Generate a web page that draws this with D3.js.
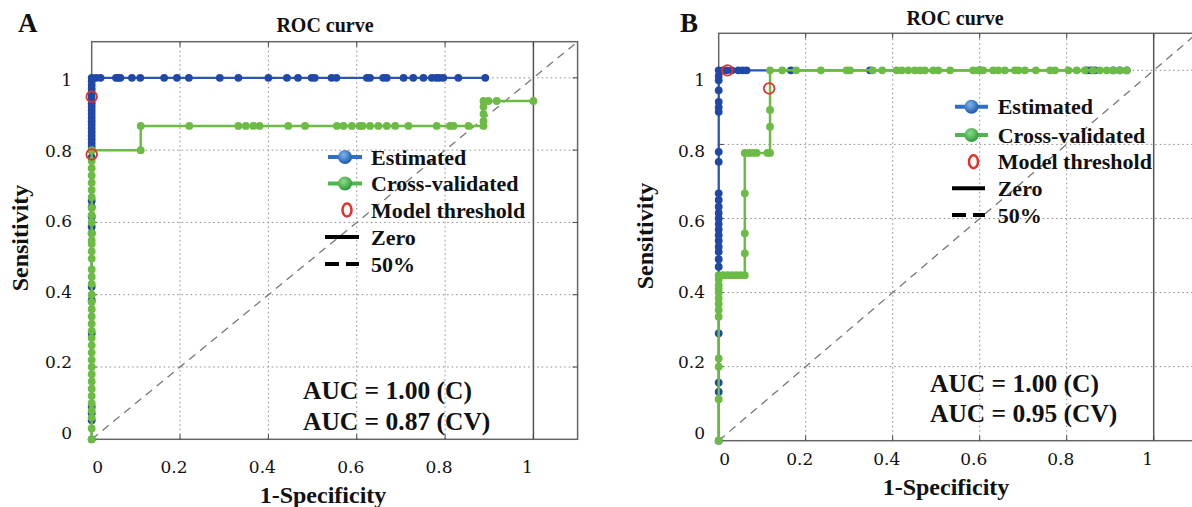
<!DOCTYPE html>
<html><head><meta charset="utf-8">
<script src="https://cdn.jsdelivr.net/npm/d3@7"></script>
<style>
html,body{margin:0;padding:0;background:#fff;}
svg{display:block;}
.bold{font-family:"Liberation Serif","Times New Roman",serif;font-weight:bold;fill:#111;}
.tick{font-family:"DejaVu Serif",serif;font-size:17px;fill:#111;}
</style>
</head><body>
<svg id="chart" width="1192" height="507"></svg>
<script>
// ---------- DATA ----------
const tickValues = [0, 0.2, 0.4, 0.6, 0.8, 1];
const tickLabels = ["0", "0.2", "0.4", "0.6", "0.8", "1"];
const legendLabels = ["Estimated", "Cross-validated", "Model threshold", "Zero", "50%"];
const panelLetters = ["A", "B"];
const titleText = "ROC curve";
const xTitle = "1-Specificity";
const yTitle = "Sensitivity";
const aucA = ["AUC = 1.00 (C)", "AUC = 0.87 (CV)"];
const aucB = ["AUC = 1.00 (C)", "AUC = 0.95 (CV)"];

// Panel A – Estimated (blue)
const estA_fpr = [0,0,0,0,0,0,0,0,0,0,0,0,0,0,0,0,0,0,0,0,0,0,0,0,0,0,0,0,0,0,0,0,0,0,
  0.01,0.02,0.055,0.06,0.065,0.091,0.11,0.164,0.193,0.22,0.29,0.332,0.40,0.442,0.467,0.498,0.505,0.543,0.554,0.623,0.63,0.66,0.668,0.706,0.728,0.751,0.77,0.78,0.787,0.796,0.83,0.891];
const estA_tpr = [0,0.053,0.072,0.09,0.293,0.385,0.422,0.57,0.588,0.616,0.643,0.66,0.78,0.80,0.81,0.82,0.83,0.84,0.85,0.86,0.87,0.88,0.89,0.90,0.91,0.92,0.93,0.94,0.95,0.96,0.97,0.98,0.99,1,
  1,1,1,1,1,1,1,1,1,1,1,1,1,1,1,1,1,1,1,1,1,1,1,1,1,1,1,1,1,1,1,1];
// Panel A – Cross-validated (green)
const cvA_fpr = [0,0,0,0,0,0,0,0,0,0,0,0,0,0,0,0,0,0,0,0,0,0,0,0,0,0,0,0,0,0,0,0,0,0,0,0,0,0,
  0.111,0.111,0.221,0.332,0.349,0.366,0.38,0.445,0.483,0.555,0.57,0.589,0.607,0.613,0.63,0.649,0.668,0.687,0.717,0.781,0.811,0.819,0.853,0.887,
  0.887,0.887,0.887,0.887,0.898,0.917,1.0];
const cvA_tpr = [0,0.03,0.06,0.08,0.10,0.12,0.14,0.16,0.18,0.20,0.22,0.24,0.26,0.28,0.30,0.32,0.34,0.36,0.38,0.40,0.43,0.45,0.47,0.50,0.52,0.54,0.55,0.57,0.60,0.62,0.64,0.67,0.69,0.71,0.73,0.75,0.77,0.80,
  0.80,0.867,0.867,0.867,0.867,0.867,0.867,0.867,0.867,0.867,0.867,0.867,0.867,0.867,0.867,0.867,0.867,0.867,0.867,0.867,0.867,0.867,0.867,0.867,
  0.88,0.90,0.92,0.936,0.936,0.936,0.936];
const thrA_fpr = [0, 0];
const thrA_tpr = [0.948, 0.788];

// Panel B – Estimated (blue)
const estB_fpr = [0,0,0,0,0,0,0,0,0,0,0,0,0,0,0,0,0,0,0,0,0,0,0,0,0,0,
  0.01,0.018,0.03,0.045,0.055,0.064,0.166,0.348,0.601,0.846,0.855,0.865,0.907,0.922,0.938];
const estB_tpr = [0,0.132,0.157,0.29,0.47,0.49,0.51,0.524,0.54,0.555,0.57,0.585,0.60,0.615,0.632,0.65,0.668,0.753,0.78,0.888,0.90,0.915,0.946,0.973,0.985,1,
  1,1,1,1,1,1,1,1,1,1,1,1,1,1,1];
// Panel B – Cross-validated (green)
const cvB_fpr = [0,0,0,0,0,0,0,0,0,0,0,0,0,
  0.01,0.02,0.03,0.04,0.05,0.06,
  0.06,0.06,0.06,0.06,
  0.07,0.078,0.087,0.112,0.118,
  0.118,0.118,0.118,
  0.146,0.178,0.235,0.294,0.302,0.354,0.376,0.409,0.421,0.436,0.451,0.463,0.474,0.493,0.505,0.532,0.585,0.597,0.608,0.631,0.643,0.658,0.681,0.689,0.704,0.729,0.762,0.773,0.804,0.823,0.842,0.86,0.876,0.892,0.907,0.922,0.938];
const cvB_tpr = [0,0.112,0.20,0.222,0.335,0.353,0.37,0.385,0.40,0.41,0.42,0.435,0.447,
  0.447,0.447,0.447,0.447,0.447,0.447,
  0.506,0.56,0.668,0.777,
  0.777,0.777,0.777,0.777,0.777,
  0.848,0.893,1,
  1,1,1,1,1,1,1,1,1,1,1,1,1,1,1,1,1,1,1,1,1,1,1,1,1,1,1,1,1,1,1,1,1,1,1,1,1];
const thrB_fpr = [0.02, 0.116];
const thrB_tpr = [1.0, 0.951];

// ---------- DRAWING ----------
const svg = d3.select("#chart");
const defs = svg.append("defs");
function grad(id, c0, c1) {
  const g = defs.append("radialGradient").attr("id", id).attr("cx","40%").attr("cy","35%").attr("r","65%");
  g.append("stop").attr("offset","0%").attr("stop-color", c0);
  g.append("stop").attr("offset","100%").attr("stop-color", c1);
}
grad("gBlue", "#7fb4ee", "#1f5aa8");
grad("gGreen", "#8fdc8a", "#2f9a3a");

const BLUE = "#2048a6", BLUE_LINE = "#2a55b2", GREEN = "#6cbb45", RED = "#e8302a";

const zip = (a, b) => a.map((v, i) => [v, b[i]]);

function panel(cfg) {
  const g = svg.append("g");
  const x = d3.scaleLinear().domain([0, 1.1]).range([cfg.left, cfg.right]);
  const y = d3.scaleLinear().domain([0, 1.1]).range([cfg.bottom, cfg.top]);
  const yl = d3.scaleLinear().domain([0, 1]).range([433, 80]);

  // grid
  const gv = [0.2, 0.4, 0.6, 0.8];
  g.selectAll(".gx").data(gv).enter().append("line")
    .attr("x1", d => x(d)).attr("x2", d => x(d)).attr("y1", y(0)).attr("y2", y(1.1))
    .attr("stroke", "#8a8a8a").attr("stroke-width", 1).attr("stroke-dasharray", "1.5,3");
  g.selectAll(".gy").data([0.2, 0.4, 0.6, 0.8, 1]).enter().append("line")
    .attr("x1", x(0)).attr("x2", x(1.1)).attr("y1", d => y(d)).attr("y2", d => y(d))
    .attr("stroke", "#8a8a8a").attr("stroke-width", 1).attr("stroke-dasharray", "1.5,3");

  // 50% diagonal
  g.append("line").attr("x1", x(0)).attr("y1", y(0)).attr("x2", x(1.1)).attr("y2", y(1.1))
    .attr("stroke", "#777").attr("stroke-width", 1.3).attr("stroke-dasharray", "8,6");
  // zero line (x = 1)
  g.append("line").attr("x1", x(1)).attr("x2", x(1)).attr("y1", y(0)).attr("y2", y(1.1))
    .attr("stroke", "#555").attr("stroke-width", 1.5);

  // frame
  g.append("rect").attr("x", x(0)).attr("y", y(1.1)).attr("width", x(1.1) - x(0)).attr("height", y(0) - y(1.1))
    .attr("fill", "none").attr("stroke", "#666").attr("stroke-width", 1.5);
  // inner ticks
  const tk = [0.2, 0.4, 0.6, 0.8, 1];
  tk.forEach(v => {
    g.append("line").attr("x1", x(v)).attr("x2", x(v)).attr("y1", y(1.1)).attr("y2", y(1.1) + 5).attr("stroke", "#444");
    g.append("line").attr("x1", x(v)).attr("x2", x(v)).attr("y1", y(0)).attr("y2", y(0) - 5).attr("stroke", "#444");
    g.append("line").attr("x1", x(0)).attr("x2", x(0) + 5).attr("y1", y(v)).attr("y2", y(v)).attr("stroke", "#444");
    g.append("line").attr("x1", x(1.1)).attr("x2", x(1.1) - 5).attr("y1", y(v)).attr("y2", y(v)).attr("stroke", "#444");
  });

  const line = d3.line().x(d => x(d[0])).y(d => y(d[1]));
  // estimated
  const est = zip(cfg.estX, cfg.estY);
  g.append("path").datum(est).attr("d", line).attr("fill", "none").attr("stroke", BLUE_LINE).attr("stroke-width", 2.2);
  g.selectAll(".pe").data(est).enter().append("circle")
    .attr("cx", d => x(d[0])).attr("cy", d => y(d[1])).attr("r", 3.9).attr("fill", BLUE);
  // cross validated
  const cv = zip(cfg.cvX, cfg.cvY);
  g.append("path").datum(cv).attr("d", line).attr("fill", "none").attr("stroke", GREEN).attr("stroke-width", 2.5);
  g.selectAll(".pc").data(cv).enter().append("circle")
    .attr("cx", d => x(d[0])).attr("cy", d => y(d[1])).attr("r", 3.9).attr("fill", GREEN);
  // thresholds
  g.selectAll(".pt").data(zip(cfg.thrX, cfg.thrY)).enter().append("ellipse")
    .attr("cx", d => x(d[0])).attr("cy", d => y(d[1])).attr("rx", 5.3).attr("ry", 5.3)
    .attr("fill", "none").attr("stroke", RED).attr("stroke-width", 1.8);

  // tick labels
  g.selectAll(".ty").data(tickValues).enter().append("text").attr("class", "tick")
    .attr("x", cfg.yLabelX).attr("y", d => yl(d)).attr("text-anchor", "end").attr("dominant-baseline", "central")
    .text((d, i) => tickLabels[i]);
  g.selectAll(".tx").data(tickValues).enter().append("text").attr("class", "tick")
    .attr("x", d => d === 0 ? x(d) + 6 : x(d) - 6).attr("y", cfg.xLabelY).attr("text-anchor", "middle").attr("dominant-baseline", "central")
    .text((d, i) => tickLabels[i]);

  // titles
  g.append("text").attr("class", "bold").attr("x", cfg.titleX).attr("y", cfg.titleY).attr("text-anchor", "middle")
    .attr("font-size", 20).text(titleText);
  g.append("text").attr("class", "bold").attr("x", cfg.letterX).attr("y", 32).attr("font-size", 27).text(cfg.letter);
  g.append("text").attr("class", "bold").attr("x", cfg.xTitleX).attr("y", cfg.xTitleY).attr("text-anchor", "middle")
    .attr("dominant-baseline", "central").attr("font-size", 24).text(xTitle);
  g.append("text").attr("class", "bold").attr("transform", `translate(${cfg.yTitleX},${cfg.yTitleY}) rotate(-90)`)
    .attr("text-anchor", "middle").attr("dominant-baseline", "central").attr("font-size", 24).text(yTitle);

  // AUC
  cfg.auc.forEach((t, i) => {
    g.append("text").attr("class", "bold").attr("x", cfg.aucX).attr("y", cfg.aucY[i])
      .attr("dominant-baseline", "central").attr("font-size", 25.5).text(t);
  });

  // legend
  const L = cfg.leg;
  legendLabels.forEach((t, i) => {
    const yy = L.y[i];
    g.append("text").attr("class", "bold").attr("x", L.tx).attr("y", yy).attr("dominant-baseline", "central")
      .attr("font-size", 22).text(t);
    const x0 = L.x0, x1 = L.x1, xm = (x0 + x1) / 2;
    if (i === 0 || i === 1) {
      g.append("line").attr("x1", x0).attr("x2", x1).attr("y1", yy).attr("y2", yy)
        .attr("stroke", i === 0 ? "#2f6fc4" : "#4cb84c").attr("stroke-width", 4);
      g.append("circle").attr("cx", xm).attr("cy", yy).attr("r", 7)
        .attr("fill", i === 0 ? "url(#gBlue)" : "url(#gGreen)");
    } else if (i === 2) {
      g.append("ellipse").attr("cx", xm + 2).attr("cy", yy).attr("rx", 4.5).attr("ry", 6.5)
        .attr("fill", "none").attr("stroke", RED).attr("stroke-width", 2.5);
    } else if (i === 3) {
      g.append("line").attr("x1", x0 - 3).attr("x2", x1 - 3).attr("y1", yy).attr("y2", yy)
        .attr("stroke", "#000").attr("stroke-width", 4);
    } else {
      g.append("line").attr("x1", x0 - 3).attr("x2", x1 - 3).attr("y1", yy).attr("y2", yy)
        .attr("stroke", "#000").attr("stroke-width", 4).attr("stroke-dasharray", "14,7");
    }
  });
}

panel({
  left: 91.7, right: 577.6, top: 41.7, bottom: 439.3,
  estX: estA_fpr, estY: estA_tpr, cvX: cvA_fpr, cvY: cvA_tpr, thrX: thrA_fpr, thrY: thrA_tpr,
  yLabelX: 72, xLabelY: 467, titleX: 325, titleY: 31.5, letter: panelLetters[0], letterX: 18,
  xTitleX: 323, xTitleY: 495, yTitleX: 20, yTitleY: 238,
  auc: aucA, aucX: 303, aucY: [390, 421.7],
  leg: { x0: 328, x1: 362, tx: 371, y: [157, 183.5, 210, 237, 264] }
});
panel({
  left: 718.7, right: 1197.2, top: 33.3, bottom: 440.7,
  estX: estB_fpr, estY: estB_tpr, cvX: cvB_fpr, cvY: cvB_tpr, thrX: thrB_fpr, thrY: thrB_tpr,
  yLabelX: 705, xLabelY: 459.3, titleX: 955, titleY: 25, letter: panelLetters[1], letterX: 680,
  xTitleX: 946, xTitleY: 486.7, yTitleX: 645, yTitleY: 236,
  auc: aucB, aucX: 930, aucY: [383.3, 413.3],
  leg: { x0: 955, x1: 988, tx: 997.7, y: [106.7, 135, 161.7, 188.3, 215] }
});
</script>
</body></html>
